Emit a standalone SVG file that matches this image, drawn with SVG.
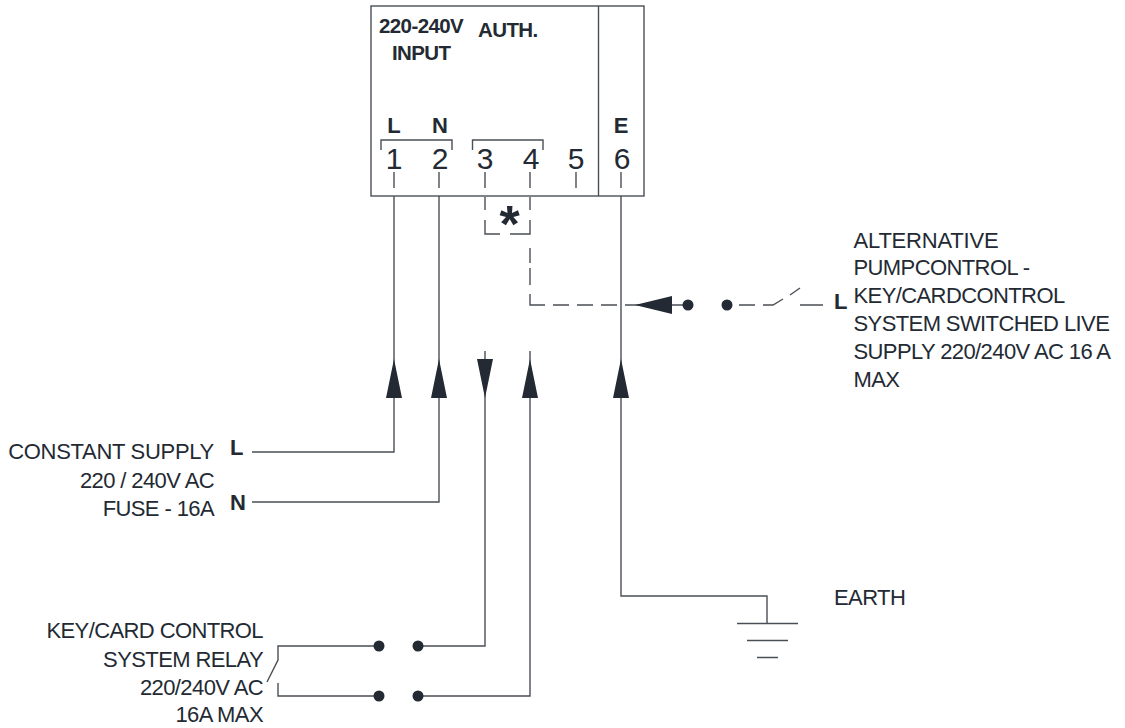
<svg xmlns="http://www.w3.org/2000/svg" width="1125" height="728" viewBox="0 0 1125 728">
<style>
.l{fill:none;stroke:#4a4f55;stroke-width:1.4}
.f{fill:#232a33;stroke:none}
text{font-family:"Liberation Sans",Arial,sans-serif;fill:#232a33}
.t{font-size:22px;letter-spacing:-0.6px}
.b{font-size:22px;font-weight:bold}
.s{font-size:20.500px;font-weight:bold;letter-spacing:-0.6px}
.n{font-size:30px}
</style>
<rect width="1125" height="728" fill="#fff"/>
<g id="terminal-box">
<rect class="l" x="371" y="6" width="273" height="190"/>
<path class="l" d="M598.500 6V196"/>
<path class="l" d="M381 150V140H452V150M472.500 150V140H543V150"/>
<path class="l" d="M394 172V188M439 172V188M485 172V188M530 172V188M576 172V188M621 172V188"/>
<text class="s" x="379" y="33">220-240V</text>
<text class="s" x="392" y="60">INPUT</text>
<text class="s" x="478" y="37">AUTH.</text>
<text class="b" x="394" y="133" text-anchor="middle">L</text>
<text class="b" x="440" y="133" text-anchor="middle">N</text>
<text class="b" x="621" y="133" text-anchor="middle">E</text>
<text class="n" x="394" y="169" text-anchor="middle">1</text>
<text class="n" x="440" y="169" text-anchor="middle">2</text>
<text class="n" x="485" y="169" text-anchor="middle">3</text>
<text class="n" x="531" y="169" text-anchor="middle">4</text>
<text class="n" x="576" y="169" text-anchor="middle">5</text>
<text class="n" x="622" y="169" text-anchor="middle">6</text>
</g>
<g id="connectors">
<path class="l" d="M394 196V452H252M439 196V502H252M621 196V596H767V623"/>
<path class="l" d="M485 351V646H418M530 351V696H418"/>
<path class="l" d="M379 646H278V660L267 682M278 683V696H379"/>
<path class="l" d="M485 197V210M485 220V234H500M510 234H530V220M530 197V210M530 248V263M530 268V285M530 294V305H545M553 305H569M577 305H593M601 305H617M625 305H672"/>
<path class="l" d="M672 305H688M739 305H755M763 305H773L783 299M790 295L800 288M800 305H823"/>
<path class="f" d="M394 359L402 398H386ZM439 359L447 398H431ZM485 398L493 359H477ZM530 359L538 398H522ZM621 359L629 398H613ZM635 305L672 296V314Z"/>
<circle class="f" cx="688" cy="305" r="5.500"/>
<circle class="f" cx="727" cy="305" r="5.500"/>
<circle class="f" cx="379" cy="646" r="5.500"/>
<circle class="f" cx="418" cy="646" r="5.500"/>
<circle class="f" cx="379" cy="696" r="5.500"/>
<circle class="f" cx="418" cy="696" r="5.500"/>
</g>
<g id="earth">
<path class="l" d="M737 623.500H798M747 640.500H788M757 657.500H778"/>
<text class="t" x="834" y="605">EARTH</text>
</g>
<g id="star"><text x="509.500" y="242" text-anchor="middle" style="font-size:52px;font-weight:bold">*</text></g>
<g id="alt-label">
<text class="b" x="834" y="309">L</text>
<text class="t" x="853.500" y="248" style="letter-spacing:-0.2px">ALTERNATIVE</text>
<text class="t" x="853.500" y="275">PUMPCONTROL -</text>
<text class="t" x="853.500" y="303">KEY/CARDCONTROL</text>
<text class="t" x="853.500" y="331">SYSTEM SWITCHED LIVE</text>
<text class="t" x="853.500" y="359">SUPPLY 220/240V AC 16 A</text>
<text class="t" x="853.500" y="387">MAX</text>
</g>
<g id="supply-label">
<text class="t" x="214" y="459" text-anchor="end" style="letter-spacing:-0.3px">CONSTANT SUPPLY</text>
<text class="t" x="214" y="488" text-anchor="end">220 / 240V AC</text>
<text class="t" x="214" y="516" text-anchor="end">FUSE - 16A</text>
<text class="b" x="230" y="455">L</text>
<text class="b" x="230" y="510">N</text>
</g>
<g id="relay-label">
<text class="t" x="263" y="638" text-anchor="end">KEY/CARD CONTROL</text>
<text class="t" x="263" y="667" text-anchor="end">SYSTEM RELAY</text>
<text class="t" x="263" y="695" text-anchor="end">220/240V AC</text>
<text class="t" x="263" y="722" text-anchor="end">16A MAX</text>
</g>
</svg>
